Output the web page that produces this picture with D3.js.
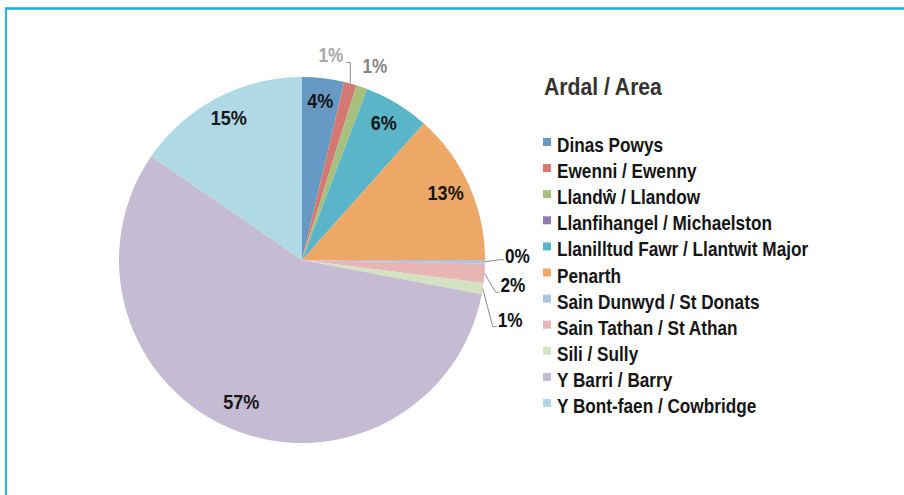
<!DOCTYPE html>
<html>
<head>
<meta charset="utf-8">
<script src="https://cdn.jsdelivr.net/npm/d3@7"></script>
<style>
  body { margin: 0; background: #fff; }
  text { font-family: "Liberation Sans", Arial, sans-serif; font-weight: bold; }
</style>
</head>
<body>
<svg id="chart"></svg>
<script>
const WIDTH = 904;
const HEIGHT = 495;

const CX = 302;
const CY = 260;
const RADIUS = 183;
const NARROW = 0.86; // squeeze text to look like a condensed face

const areas = [
    "Dinas Powys",
    "Ewenni / Ewenny",
    "Llandŵ / Llandow",
    "Llanfihangel / Michaelston",
    "Llanilltud Fawr / Llantwit Major",
    "Penarth",
    "Sain Dunwyd / St Donats",
    "Sain Tathan / St Athan",
    "Sili / Sully",
    "Y Barri / Barry",
    "Y Bont-faen / Cowbridge"
];
const shares = [3.7, 1.1, 1.0, 0, 5.8, 13.4, 0.3, 1.7, 1.0, 56.6, 15.4];
const shareLabels = ["4%", "1%", "1%", "", "6%", "13%", "0%", "2%", "1%", "57%", "15%"];
const colours = ["#6699c4", "#d47872", "#a8c07e", "#8f7ab2", "#5bb5c8", "#eda867",
                 "#adc4e0", "#e6b5b4", "#d3e2c0", "#c5bbd3", "#aed9e5"];

const data = areas.map((a, i) => ({ area: a, value: shares[i], label: shareLabels[i] }));

// slices too small to hold their label get a callout outside the pie
const callouts = {
    1: { dx: 0, dy: -21, side: "left", colour: "#a8a8a8", line: true },
    2: { dx: 13, dy: -20, side: "none", colour: "#858585", line: false },
    6: { dx: 15, dy: -2, side: "right", colour: "#111", line: true },
    7: { dx: 11, dy: 19, side: "right", colour: "#111", line: true },
    8: { dx: 10, dy: 38, side: "right", colour: "#111", line: true }
};

const colour = d3.scaleOrdinal().domain(areas).range(colours);

const svg = d3.select("#chart").attr("width", WIDTH).attr("height", HEIGHT);

// condensed text helper
function narrowText(parent, x, y, str, size, fill, anchor) {
    return parent.append("text")
        .attr("transform", `translate(${x},${y}) scale(${NARROW},1)`)
        .attr("text-anchor", anchor || "start")
        .attr("font-size", size)
        .attr("fill", fill)
        .text(str);
}

// frame lines (top + left)
svg.append("line")
    .attr("x1", 5).attr("x2", WIDTH).attr("y1", 8.5).attr("y2", 8.5)
    .attr("stroke", "#18ace3").attr("stroke-width", 2.5);
svg.append("line")
    .attr("x1", 6).attr("x2", 6).attr("y1", 7.5).attr("y2", HEIGHT)
    .attr("stroke", "#1bbdf2").attr("stroke-width", 2);

const pie = d3.pie().value(d => d.value).sort(null);
const arc = d3.arc().innerRadius(0).outerRadius(RADIUS);
const rim = d3.arc().innerRadius(RADIUS).outerRadius(RADIUS);
const labelArc = d3.arc().innerRadius(RADIUS * 0.86).outerRadius(RADIUS * 0.86);

const arcs = pie(data);

const g = svg.append("g").attr("transform", `translate(${CX},${CY})`);

g.selectAll("path.slice")
    .data(arcs)
    .join("path")
    .attr("class", "slice")
    .attr("d", arc)
    .attr("fill", d => colour(d.data.area));

// inside labels
arcs.forEach((d, i) => {
    if (callouts[i] || !d.data.label) return;
    const [lx, ly] = labelArc.centroid(d);
    narrowText(g, lx, ly + 4, d.data.label, 21, "#151515", "middle");
});

// callouts
arcs.forEach((d, i) => {
    const c = callouts[i];
    if (!c) return;
    const [ex, ey] = rim.centroid(d);
    const bx = ex + c.dx, by = ey + c.dy;
    if (c.line) {
        const tail = c.side === "left" ? -4 : 4;
        g.append("path")
            .attr("d", `M${ex},${ey}L${bx},${by}L${bx + tail},${by}`)
            .attr("fill", "none")
            .attr("stroke", "#8a8a8a")
            .attr("stroke-width", 1);
        narrowText(g, bx + tail + (c.side === "left" ? -3 : 1),
            by + (c.dy > -5 && c.dy < 5 ? 3 : 0),
            d.data.label, 20, c.colour, c.side === "left" ? "end" : "start");
    } else {
        narrowText(g, bx, by + 6, d.data.label, 20, c.colour, "middle");
    }
});

// legend
svg.append("text")
    .attr("transform", "translate(544,95) scale(0.92,1)")
    .attr("font-size", 23)
    .attr("fill", "#333")
    .text("Ardal / Area");

const legendY = d3.scalePoint().domain(areas).range([146, 407]);

const items = svg.selectAll("g.legend")
    .data(areas)
    .join("g")
    .attr("class", "legend")
    .attr("transform", d => `translate(543,${legendY(d)})`);

items.append("rect")
    .attr("x", 0).attr("y", -8)
    .attr("width", 8).attr("height", 8)
    .attr("fill", d => colour(d));

items.append("text")
    .attr("transform", `translate(14,6) scale(${NARROW},1)`)
    .attr("font-size", 20)
    .attr("fill", "#151515")
    .text(d => d);
</script>
</body>
</html>
